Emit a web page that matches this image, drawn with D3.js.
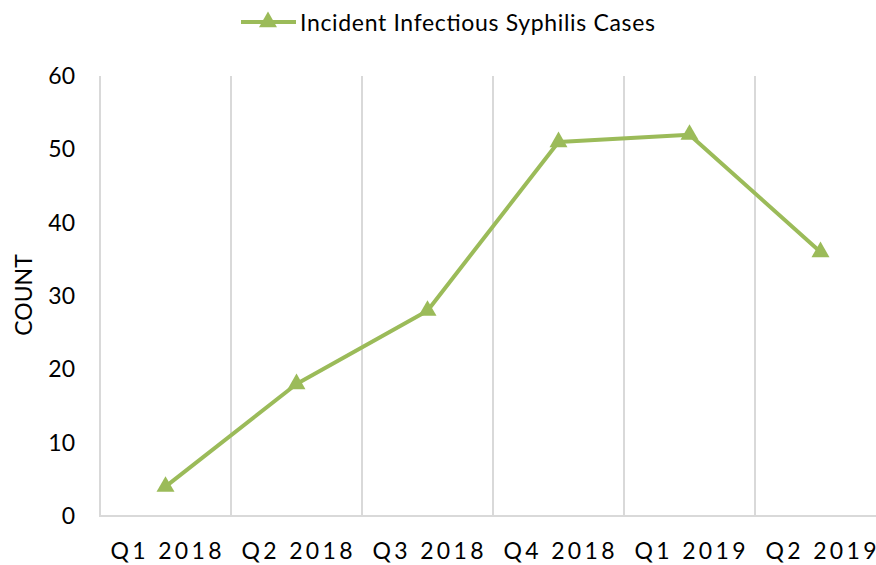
<!DOCTYPE html>
<html>
<head>
<meta charset="utf-8">
<script src="https://cdn.jsdelivr.net/npm/d3@7"></script>
<style>
  html, body { margin: 0; padding: 0; background: #fff; }
  svg { display: block; }
  text { font-family: Lato, "Open Sans", "Liberation Sans", sans-serif; fill: #000; }
</style>
</head>
<body>
<div id="chart"></div>
<script>
// Quarterly incident infectious syphilis cases
const quarters = ["Q1 2018", "Q2 2018", "Q3 2018", "Q4 2018", "Q1 2019", "Q2 2019"];
const cases = [4, 18, 28, 51, 52, 36];
const yTicks = [0, 10, 20, 30, 40, 50, 60];
const seriesName = "Incident Infectious Syphilis Cases";

const W = 876, H = 565;
const margin = { left: 100, top: 76, bottom: 49 };
const bandW = 131;
const plotRight = margin.left + bandW * quarters.length;
const green = "#9bbb59";

const svg = d3.select("#chart").append("svg")
  .attr("width", W).attr("height", H);

const x = d3.scaleBand().domain(quarters).range([margin.left, plotRight]).padding(0);
const y = d3.scaleLinear().domain([0, 60]).range([H - margin.bottom, margin.top]);

// vertical gridlines at category boundaries
svg.append("g").selectAll("line")
  .data(quarters.slice(1))
  .join("line")
  .attr("x1", d => x(d)).attr("x2", d => x(d))
  .attr("y1", y(60)).attr("y2", y(0))
  .attr("stroke", "#d9d9d9").attr("stroke-width", 2);

// axis lines
svg.append("line")
  .attr("x1", margin.left).attr("x2", margin.left)
  .attr("y1", y(60)).attr("y2", y(0))
  .attr("stroke", "#d9d9d9").attr("stroke-width", 2);
svg.append("line")
  .attr("x1", margin.left - 1).attr("x2", plotRight)
  .attr("y1", y(0)).attr("y2", y(0))
  .attr("stroke", "#d9d9d9").attr("stroke-width", 2);

// y tick labels
svg.append("g").selectAll("text")
  .data(yTicks)
  .join("text")
  .attr("x", 75).attr("y", d => y(d) + 8)
  .attr("text-anchor", "end")
  .attr("font-size", 23)
  .text(d => d);

// x tick labels
svg.append("g").selectAll("text")
  .data(quarters)
  .join("text")
  .attr("x", d => x(d) + x.bandwidth() / 2 - 55)
  .attr("y", 559)
  .attr("font-size", 23)
  .attr("textLength", 111)
  .attr("lengthAdjust", "spacing")
  .text(d => d);

// y axis title
svg.append("text")
  .attr("transform", "translate(32,295) rotate(-90)")
  .attr("text-anchor", "middle")
  .attr("font-size", 23)
  .text("COUNT");

// series line
const pts = quarters.map((q, i) => [x(q) + x.bandwidth() / 2, y(cases[i])]);
svg.append("path")
  .attr("d", d3.line()(pts))
  .attr("fill", "none")
  .attr("stroke", green)
  .attr("stroke-width", 4)
  .attr("stroke-linejoin", "round");

const tri = d3.symbol().type(d3.symbolTriangle).size(140);
svg.append("g").selectAll("path")
  .data(pts)
  .join("path")
  .attr("transform", d => `translate(${d[0]},${d[1]})`)
  .attr("d", tri)
  .attr("fill", green);

// legend
const lg = svg.append("g");
lg.append("line")
  .attr("x1", 241).attr("x2", 296).attr("y1", 22).attr("y2", 22)
  .attr("stroke", green).attr("stroke-width", 4);
lg.append("path")
  .attr("transform", "translate(268,22)")
  .attr("d", tri)
  .attr("fill", green);
lg.append("text")
  .attr("x", 300).attr("y", 31)
  .attr("font-size", 23)
  .attr("textLength", 355)
  .attr("lengthAdjust", "spacing")
  .text(seriesName);
</script>
</body>
</html>
